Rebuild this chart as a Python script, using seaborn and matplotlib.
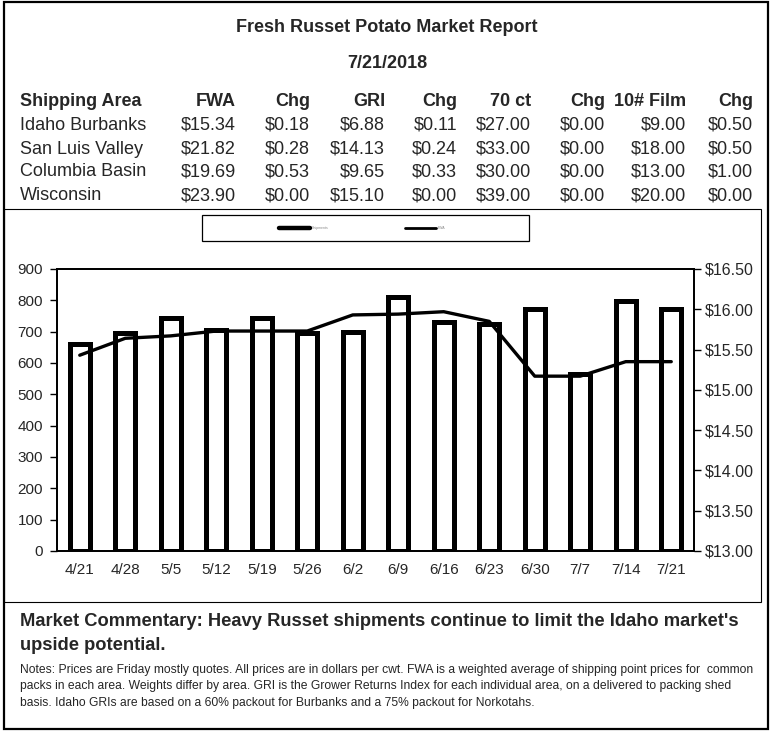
import numpy as np
import matplotlib
matplotlib.use("Agg")
import matplotlib.pyplot as plt
import seaborn as sns
from matplotlib.patches import Rectangle
from matplotlib.lines import Line2D
from matplotlib.ticker import FuncFormatter

# weekly chart data
weeks = ["4/21", "4/28", "5/5", "5/12", "5/19", "5/26", "6/2",
         "6/9", "6/16", "6/23", "6/30", "7/7", "7/14", "7/21"]
shipments = [660, 695, 745, 705, 745, 695, 700, 810, 730, 725, 773, 565, 798, 773]
fwa_trend = [15.43, 15.64, 15.67, 15.73, 15.73, 15.73, 15.93,
             15.94, 15.97, 15.85, 15.17, 15.17, 15.35, 15.35]

# table data
areas = ["Idaho Burbanks", "San Luis Valley", "Columbia Basin", "Wisconsin"]
fwa = [15.34, 21.82, 19.69, 23.90]
fwa_chg = [0.18, 0.28, 0.53, 0.00]
gri = [6.88, 14.13, 9.65, 15.10]
gri_chg = [0.11, 0.24, 0.33, 0.00]
ct70 = [27.00, 33.00, 30.00, 39.00]
ct70_chg = [0.00, 0.00, 0.00, 0.00]
film10 = [9.00, 18.00, 13.00, 20.00]
film10_chg = [0.50, 0.50, 1.00, 0.00]
headers = ["FWA", "Chg", "GRI", "Chg", "70 ct", "Chg", "10# Film", "Chg"]

W, H = 770, 732
sns.set_style("white")
plt.rcParams["font.family"] = ["Liberation Sans", "DejaVu Sans"]

fig = plt.figure(figsize=(W / 100, H / 100), dpi=100)


def px(x, y):
    return x / W, 1 - y / H


# frames
fig.add_artist(Rectangle(px(3.5, 729), 764.5 / W, 727 / H, transform=fig.transFigure,
                         fill=False, edgecolor="black", linewidth=1.6))
fig.add_artist(Rectangle(px(4, 602), 757 / W, 393 / H, transform=fig.transFigure,
                         fill=False, edgecolor="black", linewidth=0.8))

# title block
fig.text(*px(387, 27), "Fresh Russet Potato Market Report", ha="center", va="center",
         fontsize=13, fontweight="bold")
fig.text(*px(387, 63), "7/21/2018", ha="center", va="center", fontsize=13, fontweight="bold")

col_x = [236, 310, 385, 457, 531, 605, 686, 753]
row_y = [125, 149, 172, 196]
fig.text(*px(20, 102), "Shipping Area", ha="left", va="center", fontsize=13, fontweight="bold")
for cx, h in zip(col_x, headers):
    fig.text(*px(cx, 102), h, ha="right", va="center", fontsize=13, fontweight="bold")

cols = [fwa, fwa_chg, gri, gri_chg, ct70, ct70_chg, film10, film10_chg]
for i, area in enumerate(areas):
    fig.text(*px(20, row_y[i]), area, ha="left", va="center", fontsize=13)
    for cx, col in zip(col_x, cols):
        fig.text(*px(cx, row_y[i]), f"${col[i]:.2f}", ha="right", va="center", fontsize=13)

# chart
ax = fig.add_axes([57 / W, 1 - 551 / H, 637 / W, 282 / H])
x = np.arange(len(weeks))
sns.barplot(x=weeks, y=shipments, color="white", saturation=1, edgecolor="black",
            linewidth=3.6, width=0.43, ax=ax)
ax.set_ylim(0, 900)
ax.set_xlim(-0.5, len(weeks) - 0.5)
ax.set_yticks(range(0, 901, 100))
ax.set_xticks(x)
ax.set_xticklabels(weeks)
ax.set_xticks(np.arange(-0.5, len(weeks), 1), minor=True)
ax.tick_params(axis="x", which="major", length=0, pad=9, labelsize=11)
ax.tick_params(axis="x", which="minor", length=5, width=1, direction="out", color="black")
ax.tick_params(axis="y", length=5, width=1, direction="out", left=True, pad=5,
               labelsize=11, color="black")
ax.set_xlabel("")
ax.set_ylabel("")

ax2 = ax.twinx()
sns.lineplot(x=x, y=fwa_trend, color="black", linewidth=2.4, ax=ax2, legend=False)
ax2.set_xlim(-0.5, len(weeks) - 0.5)
ax2.set_ylim(13, 16.5)
ax2.set_yticks(np.arange(13, 16.51, 0.5))
ax2.yaxis.set_major_formatter(FuncFormatter(lambda v, p: f"${v:.2f}"))
ax2.tick_params(axis="y", length=5, width=1, direction="out", right=True, pad=3,
                labelsize=11.5, color="black")
ax2.set_ylabel("")

for a in (ax, ax2):
    if a.get_legend():
        a.get_legend().remove()
    for s in a.spines.values():
        s.set_visible(True)
        s.set_color("black")
        s.set_linewidth(1.3)

# legend box
fig.add_artist(Rectangle(px(202, 241), 327 / W, 26 / H, transform=fig.transFigure,
                         fill=False, edgecolor="black", linewidth=0.9))
handles = [Line2D([], [], color="black", linewidth=3.2), Line2D([], [], color="black", linewidth=2)]
fig.legend(handles, ["Shipments", "FWA"], loc="center", bbox_to_anchor=px(362, 228),
           ncol=2, frameon=False, fontsize=2.5, labelcolor="#888888",
           handlelength=9, handletextpad=0.5, columnspacing=22)

# commentary
fig.text(*px(20, 621), "Market Commentary: Heavy Russet shipments continue to limit the Idaho market's",
         ha="left", va="center", fontsize=13.2, fontweight="bold")
fig.text(*px(20, 645), "upside potential.", ha="left", va="center", fontsize=13.2, fontweight="bold")
notes = ["Notes: Prices are Friday mostly quotes. All prices are in dollars per cwt. FWA is a weighted average of shipping point prices for  common",
         "packs in each area. Weights differ by area. GRI is the Grower Returns Index for each individual area, on a delivered to packing shed",
         "basis. Idaho GRIs are based on a 60% packout for Burbanks and a 75% packout for Norkotahs."]
for k, line in enumerate(notes):
    fig.text(*px(20, 670 + 16.5 * k), line, ha="left", va="center", fontsize=8.7)

fig.savefig("out.png", dpi=100)
